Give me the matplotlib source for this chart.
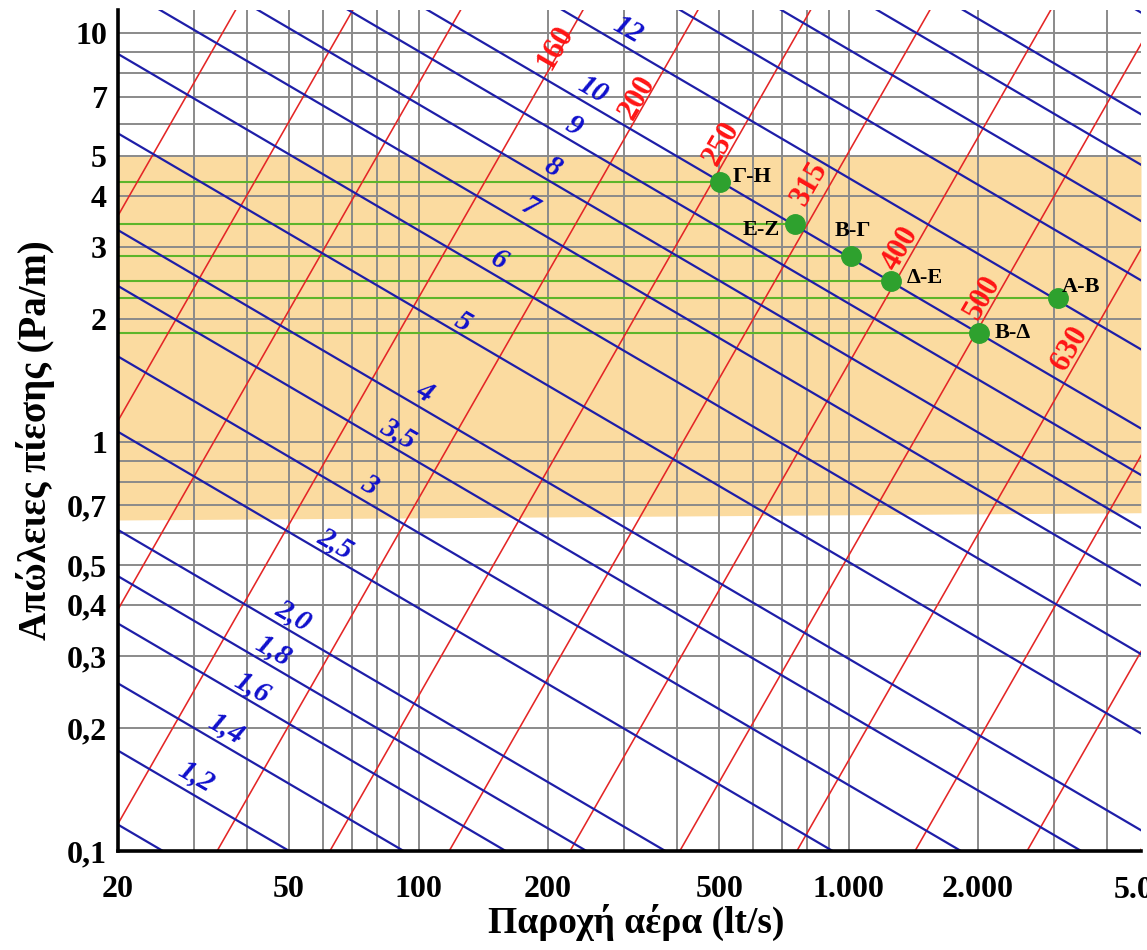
import numpy as np
import matplotlib.pyplot as plt
from matplotlib.ticker import LogLocator, NullFormatter

plt.rcParams['font.family'] = ['Liberation Serif', 'DejaVu Serif']

# ---- velocity lines (m/s): pressure loss at Q=20 and Q=5000 lt/s
vel_R20 = [0.116, 0.176, 0.257, 0.36, 0.47, 0.61, 1.06, 1.62, 2.41, 3.30,
           5.69, 8.9, 13.1, 18.1, 24.4, 31.7, 49.5, 73, 102, 140, 186, 330]
vel_R5000 = [0.00385, 0.00584, 0.00852, 0.01194, 0.01559, 0.02023, 0.03515,
             0.0537, 0.0799, 0.1094, 0.1887, 0.2951, 0.4344, 0.6002, 0.809,
             1.051, 1.641, 2.421, 3.382, 4.642, 6.168, 10.94]

# ---- diameter lines (mm): flow at R=0.1 and at R=12 Pa/m
dia_Q01 = [1.51, 2.86, 5.36, 9.55, 18.4, 34.0, 62.2, 117.8, 225, 405, 758,
           1427, 2600, 4765]
dia_Q12 = [20.4, 38.6, 72.3, 128.8, 248, 459, 839, 1589, 3035, 5463, 10225,
           19250, 35074, 64280]

vel_labels = ['1,2', '1,4', '1,6', '1,8', '2,0', '2,5', '3', '3,5', '4', '5',
              '6', '7', '8', '9', '10', '12']
vel_lab_x = [30.5, 35.7, 41.0, 45.9, 51.1, 63.9, 76.7, 89.6, 103.5, 126.9,
             153.8, 181.6, 205.4, 230, 254.5, 307]
vel_lab_y = [0.152, 0.200, 0.252, 0.310, 0.378, 0.566, 0.785, 1.052, 1.325,
             1.966, 2.786, 3.755, 4.704, 5.925, 7.255, 10.17]

dia_labels = ['160', '200', '250', '315', '400', '500', '630']
dia_lab_x = [207.6, 323.9, 507.8, 813.6, 1317, 2054, 3274]
dia_lab_y = [9.24, 6.975, 5.383, 4.298, 2.981, 2.262, 1.698]

# ---- design points
pt_names = ['Γ-Η', 'Ε-Ζ', 'Β-Γ', 'Δ-Ε', 'Α-Β', 'Β-Δ']
pt_Q = [502, 751, 1013, 1255, 3070, 2011]
pt_R = [4.32, 3.41, 2.85, 2.475, 2.25, 1.848]
pt_off = [(9, 4), (-11, -4), (1, 18), (11, 2), (3, 8), (11, 0)]
pt_ha = ['left', 'right', 'center', 'left', 'left', 'left']

# ---- recommended band
band_x = [20, 4786]
band_low = [0.645, 0.672]
band_high = [5, 5]

x_ticks = [20, 50, 100, 200, 500, 1000, 2000]
x_ticklabels = ['20', '50', '100', '200', '500', '1.000', '2.000']
y_ticks = [0.1, 0.2, 0.3, 0.4, 0.5, 0.7, 1, 2, 3, 4, 5, 7, 10]
y_ticklabels = ['0,1', '0,2', '0,3', '0,4', '0,5', '0,7', '1', '2', '3', '4',
                '5', '7', '10']

fig = plt.figure(figsize=(11.47, 9.5), dpi=100)
ax = fig.add_axes([118 / 1147, 99 / 950, 1023 / 1147, 841 / 950])
ax.set_xscale('log')
ax.set_yscale('log')
ax.set_xlim(20, 4786)
ax.set_ylim(0.1, 11.4)

ax.fill_between(band_x, band_low, band_high, color='#FBDBA0', lw=0, zorder=0)

ax.xaxis.set_minor_locator(LogLocator(base=10, subs=range(1, 10)))
ax.yaxis.set_minor_locator(LogLocator(base=10, subs=range(1, 10)))
ax.xaxis.set_minor_formatter(NullFormatter())
ax.yaxis.set_minor_formatter(NullFormatter())
ax.set_axisbelow(True)
ax.grid(which='both', color='#8a8a8a', lw=1.4)

ax.set_xticks(x_ticks, x_ticklabels)
ax.set_yticks(y_ticks, y_ticklabels)
ax.tick_params(which='both', length=0)
ax.tick_params(axis='x', pad=17, labelsize=23)
ax.tick_params(axis='y', pad=8, labelsize=23)
for lab in ax.get_xticklabels() + ax.get_yticklabels():
    lab.set_fontweight('bold')
ax.text(5000, -0.030, '5.000', transform=ax.get_xaxis_transform(),
        ha='center', va='top', fontsize=23, fontweight='bold', clip_on=False)

for s in ['top', 'right']:
    ax.spines[s].set_visible(False)
for s in ['left', 'bottom']:
    ax.spines[s].set_linewidth(2.6)
    ax.spines[s].set_zorder(10)

# green guide lines to the points
for q, r in zip(pt_Q, pt_R):
    ax.plot([20, q], [r, r], color='#5DB52A', lw=1.5, zorder=2)

for a, b in zip(dia_Q01, dia_Q12):
    ax.plot([a, b], [0.1, 12], color='#E42626', lw=1.15, zorder=3)

for a, b in zip(vel_R20, vel_R5000):
    ax.plot([20, 5000], [a, b], color='#1E1EA8', lw=1.6, zorder=3)

ax.plot(pt_Q, pt_R, 'o', color='#2EA12E', ms=14, zorder=5)
for name, q, r, off, ha in zip(pt_names, pt_Q, pt_R, pt_off, pt_ha):
    ax.annotate(name, (q, r), xytext=off, textcoords='offset points',
                ha=ha, va='center', fontsize=16, fontweight='bold', zorder=6)

for t, x, y in zip(vel_labels, vel_lab_x, vel_lab_y):
    ax.text(x, y, t, color='#1010CC', fontsize=21, fontweight='bold',
            fontstyle='italic', rotation=-30, rotation_mode='anchor',
            ha='center', va='center', zorder=6)

for t, x, y in zip(dia_labels, dia_lab_x, dia_lab_y):
    ax.text(x, y, t, color='#FF1414', fontsize=22, fontweight='bold',
            rotation=60, rotation_mode='anchor',
            ha='center', va='center', zorder=6)

fig.text(36 / 1147, 1 - 440 / 950, 'Απώλειες πίεσης (Pa/m)', rotation=90,
         ha='center', va='center', fontsize=28, fontweight='bold')
fig.text(636 / 1147, 1 - 922 / 950, 'Παροχή αέρα (lt/s)',
         ha='center', va='center', fontsize=27, fontweight='bold')

fig.savefig('out.png', dpi=100)
